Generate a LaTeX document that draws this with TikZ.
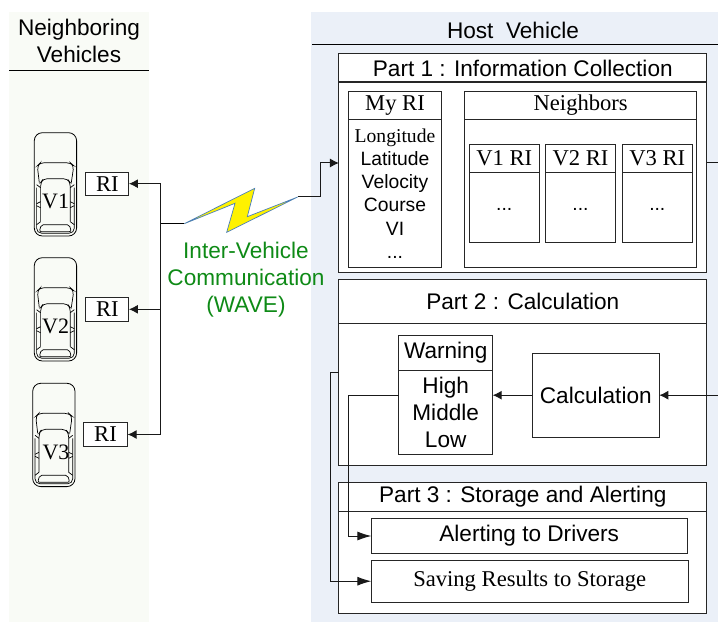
\documentclass[tikz,border=0pt]{standalone}
\usepackage{fontspec}
\setmainfont{Liberation Serif}
\setsansfont{Liberation Sans}
\usetikzlibrary{arrows.meta}
\definecolor{leftbg}{HTML}{F9FBF6}
\definecolor{rightbg}{HTML}{EBF0F8}
\definecolor{wavegreen}{HTML}{0E8A16}
\definecolor{boltblue}{HTML}{4A7EBB}
\tikzset{
  box/.style={draw=black!85,line width=1pt,fill=white,inner sep=0pt,outer sep=0pt},
  arial/.style={font=\sffamily\fontsize{22.6}{27}\selectfont,align=center},
  arialsmall/.style={font=\sffamily\fontsize{19.3}{23.2}\selectfont,align=center},
  times/.style={font=\rmfamily\fontsize{22.6}{27}\selectfont,align=center},
  cartext/.style={font=\rmfamily\fontsize{22}{26}\selectfont,inner sep=0pt},
  link/.style={draw=black!90,line width=1pt},
  tiparrow/.style={-{Latex[length=9pt,width=9pt]}},
  longarrow/.style={-{Latex[length=14pt,width=9pt]}},
  carbody/.pic={
    \draw[line width=0.8pt,rounded corners=8pt] (0,0) rectangle (42.3,103.3);
    \draw[line width=0.7pt,rounded corners=5pt] (2.3,55) -- (2.3,100.5) -- (40,100.5) -- (40,55);
    \draw[line width=0.7pt,rounded corners=4pt] (5,50) -- (3,33) -- (6,30) -- (36,30) -- (39.5,33) -- (37,50);
    \draw[line width=0.7pt,rounded corners=4pt] (6.3,89) -- (6.3,50) -- (9,46) -- (33,46) -- (36,50) -- (36,89);
    \draw[line width=0.7pt,rounded corners=2pt] (7,92) -- (5,99) -- (37,99) -- (35,92) -- cycle;
    \draw[line width=0.7pt] (2.3,52) -- (6.3,55);
    \draw[line width=0.7pt] (40,52) -- (36,55);
    \draw[line width=0.7pt] (2.3,71) -- (6.3,69);
    \draw[line width=0.7pt] (40,71) -- (36,69);
    \draw[line width=0.7pt] (2.3,73) -- (6.3,75);
    \draw[line width=0.7pt] (40,73) -- (36,75);
    \draw[line width=0.7pt] (2.3,92) -- (6.3,89);
    \draw[line width=0.7pt] (40,92) -- (36,89);
  }
}
\begin{document}
\begin{tikzpicture}[x=1pt,y=-1pt]
      \useasboundingbox (0,0) rectangle (718,623);
      \fill[leftbg] (9,12) rectangle (149,622);
      \fill[rightbg] (311,12) rectangle (718,622);

      \node[arial] (title1) at (79,41) {Neighboring\\Vehicles};
      \node[arial] (title2) at (513,30) {Host\ \ Vehicle};
      \coordinate (rule1a) at (9,70.3);
      \coordinate (rule1b) at (149,70.3);
      \coordinate (rule2a) at (312,44.5);
      \coordinate (rule2b) at (718,44.5);
      \draw[line width=1.5pt] (rule1a) -- (rule1b);
      \draw[line width=1.5pt] (rule2a) -- (rule2b);

      \pic at (34.3,132.7) {carbody};
      \pic at (34.3,257.7) {carbody};
      \pic at (32.7,383.3) {carbody};
      \node[cartext] (v1) at (55.6,201.5) {V1};
      \node[cartext] (v2) at (55.6,326.5) {V2};
      \node[cartext] (v3) at (56,452) {V3};
      \node[box,times,minimum width=43.3,minimum height=23.3] (ri1) at (107.3,183.7) {RI};
      \node[box,times,minimum width=43.3,minimum height=24] (ri2) at (107.3,309.3) {RI};
      \node[box,times,minimum width=44.3,minimum height=23.6] (ri3) at (105.5,434.5) {RI};

      \node[box,arial,minimum width=367.7,minimum height=28] (part1head) at (522.8,68) {Part 1 : Information Collection};
      \node[box,minimum width=367.7,minimum height=190.7] (part1body) at (522.8,177.4) {};
      \node[box,times,minimum width=93.4,minimum height=28] (myrihead) at (395,105.3) {My RI};
      \node[box,arialsmall,minimum width=93.4,minimum height=148.4] (myribody) at (395,193.5)
        {{\rmfamily\fontsize{19.6}{23.2}\selectfont Longitude}\\Latitude\\Velocity\\Course\\VI\\...};
      \node[box,times,minimum width=232,minimum height=28] (neighhead) at (580.7,105.3) {Neighbors};
      \node[box,minimum width=232,minimum height=148.4] (neighbody) at (580.7,193.5) {};
      \node[box,times,minimum width=69.7,minimum height=28] (v1rihead) at (504.2,158.3) {V1 RI};
      \node[box,arialsmall,minimum width=69.7,minimum height=70] (v1ribody) at (504.2,207.3) {\raisebox{-7pt}{...}};
      \node[box,times,minimum width=69.6,minimum height=28] (v2rihead) at (580.5,158.3) {V2 RI};
      \node[box,arialsmall,minimum width=69.6,minimum height=70] (v2ribody) at (580.5,207.3) {\raisebox{-7pt}{...}};
      \node[box,times,minimum width=70,minimum height=28] (v3rihead) at (657.3,158.3) {V3 RI};
      \node[box,arialsmall,minimum width=70,minimum height=70] (v3ribody) at (657.3,207.3) {\raisebox{-7pt}{...}};

      \node[box,arial,minimum width=367.7,minimum height=44] (part2head) at (522.8,301.3) {Part 2 : Calculation};
      \node[box,minimum width=367.7,minimum height=141.7] (part2body) at (522.8,394.2) {};
      \node[box,arial,minimum width=94,minimum height=34.6] (warnhead) at (445.7,353) {Warning};
      \node[box,arial,minimum width=94,minimum height=84.7] (warnbody) at (445.7,412.6) {High\\Middle\\Low};
      \node[box,arial,minimum width=127,minimum height=83.7] (calc) at (595.8,395.2) {Calculation};

      \node[box,arial,minimum width=367.7,minimum height=28.7] (part3head) at (522.8,496.7) {Part 3 : Storage and Alerting};
      \node[box,minimum width=367.7,minimum height=102.3] (part3body) at (522.8,562.2) {};
      \node[box,arial,minimum width=315.7,minimum height=34.6] (alert) at (529.2,536) {Alerting to Drivers};
      \node[box,times,minimum width=316.7,minimum height=41.7] (saving) at (529.7,581.2) {Saving Results to Storage};

      \coordinate (boltl) at (184.3,223.7);
      \coordinate (boltt) at (254.7,188.3);
      \coordinate (boltm) at (247.3,216.7);
      \coordinate (boltr) at (297.7,197);
      \coordinate (boltb) at (226.7,232.3);
      \coordinate (boltn) at (235,203.3);
      \draw[boltblue,fill=yellow,line width=0.7pt] (boltl) -- (boltt) -- (boltm) -- (boltr) -- (boltb) -- (boltn) -- cycle;
      \node[arial,text=wavegreen] (wave) at (246,280) {Inter-Vehicle\\Communication\\(WAVE)};

      \coordinate (trunk1) at (160.7,183.7);
      \coordinate (trunk2) at (160.7,309.3);
      \coordinate (trunk3) at (160.7,434.5);
      \coordinate (trunk4) at (160.7,223.7);
      \coordinate (bend1) at (320.3,197);
      \coordinate (bend2) at (320.3,163);
      \coordinate (right1) at (718,163);
      \coordinate (right2) at (718,395.2);
      \coordinate (bend3) at (348.3,395.2);
      \coordinate (bend4) at (348.3,536);
      \coordinate (bend5) at (330,372);
      \coordinate (bend6) at (330,581.2);
      \begin{scope}[link]
        \draw (trunk1) -- (trunk3);
        \draw[tiparrow] (trunk1) -- (ri1);
        \draw[tiparrow] (trunk2) -- (ri2);
        \draw[tiparrow] (trunk3) -- (ri3);
        \draw[line width=1.3pt,black] (trunk4) -- (boltl);
        \draw[tiparrow] (boltr) -- (bend1) -- (bend2) -- (bend2 -| part1body.west);
        \draw (bend2 -| part1body.east) -- (right1);
        \draw[tiparrow] (right2) -- (calc);
        \draw[tiparrow] (calc) -- (warnbody.east |- calc);
        \draw[longarrow] (bend3 -| warnbody.west) -- (bend3) -- (bend4) -- (alert);
        \draw[longarrow] (bend5 -| part2body.west) -- (bend5) -- (bend6) -- (saving);
      \end{scope}
    \end{tikzpicture}
\end{document}
